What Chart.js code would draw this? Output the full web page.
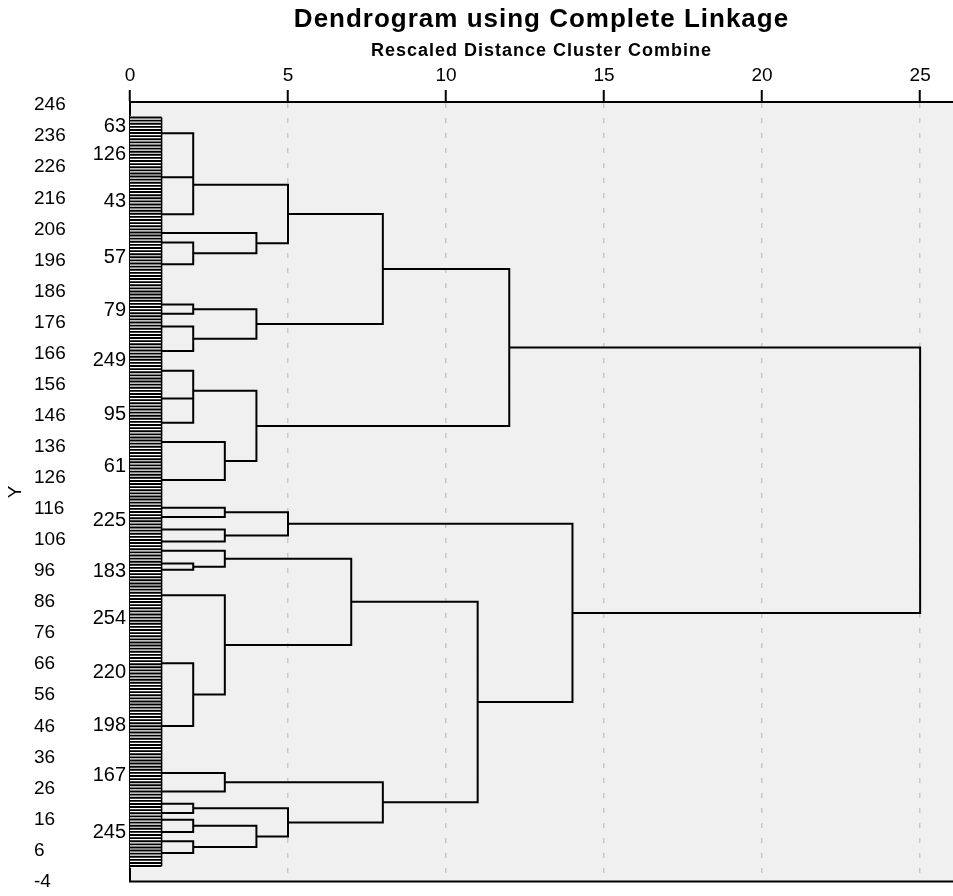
<!DOCTYPE html>
<html>
<head>
<meta charset="utf-8">
<script src="https://cdn.jsdelivr.net/npm/chart.js@4.4.1/dist/chart.umd.min.js"></script>
<style>
  html, body { margin: 0; padding: 0; background: #fff; }
</style>
</head>
<body>
<canvas id="dendro" width="953" height="896"></canvas>
<script>
// leaf count (cases), tick labels
var leafCount = 242;
var xTicks = [0, 5, 10, 15, 20, 25];
var yTicks = [246, 236, 226, 216, 206, 196, 186, 176, 166, 156, 146, 136, 126, 116, 106, 96, 86, 76, 66, 56, 46, 36, 26, 16, 6, -4];

// case labels shown next to the leaves and their leaf position
var leafLabels = ['63', '126', '43', '57', '79', '249', '95', '61', '225', '183', '254', '220', '198', '167', '245'];
var leafLabelPos = [239.6, 230.6, 215.5, 197.5, 180.4, 164.3, 147.0, 130.1, 112.9, 96.3, 81.1, 63.9, 46.8, 30.7, 12.5];

// clusters that leave the leaf band (joined at distance 1), by position
var groupPos = [236.9, 222.8, 210.9, 204.8, 201.8, 194.8, 181.8, 178.8, 174.7, 166.8,
                160.5, 151.5, 143.7, 137.5, 125.3, 116.4, 113.4, 109.4, 105.5, 102.5,
                98.4, 96.4, 88.2, 66.3, 46.1, 31.0, 25.0, 21.1, 18.1, 15.9, 12.0, 9.0, 5.2];

// merge table: child a, child b, rescaled distance
var mergeA = ['g0', 'm0', 'g4', 'g3', 'm1', 'g6', 'g8', 'm5', 'm4', 'g11', 'g10', 'g13', 'm10', 'm8', 'g15', 'g17',
              'm14', 'g20', 'g19', 'g23', 'g22', 'm18', 'g25', 'g27', 'g29', 'g31', 'm24', 'm23', 'm22', 'm21', 'm16', 'm13'];
var mergeB = ['g1', 'g2', 'g5', 'm2', 'm3', 'g7', 'g9', 'm6', 'm7', 'g12', 'm9', 'g14', 'm11', 'm12', 'g16', 'g18',
              'm15', 'g21', 'm17', 'g24', 'm19', 'm20', 'g26', 'g28', 'g30', 'g32', 'm25', 'm26', 'm27', 'm28', 'm29', 'm30'];
var mergeDist = [2, 2, 2, 4, 5, 2, 2, 4, 8, 2, 2, 3, 4, 12, 3, 3, 5, 2, 3, 2, 3, 7, 3, 2, 2, 2, 4, 5, 8, 11, 14, 25];

var FONT = '"Liberation Sans", Arial, sans-serif';
var gap = {x: null, y: null};

// node positions: a merged cluster sits midway between its two children
var nodePos = {}, nodeDist = {};
groupPos.forEach(function(v, i) { nodePos['g' + i] = v; nodeDist['g' + i] = 1; });
mergeA.forEach(function(a, k) {
    var b = mergeB[k];
    nodePos['m' + k] = (nodePos[a] + nodePos[b]) / 2;
    nodeDist['m' + k] = mergeDist[k];
});

var linkData = [];
mergeA.forEach(function(a, k) {
    var b = mergeB[k], d = mergeDist[k];
    linkData.push({x: nodeDist[a], y: nodePos[a]}, {x: d, y: nodePos[a]},
                  {x: d, y: nodePos[b]}, {x: nodeDist[b], y: nodePos[b]}, gap);
});

var leafData = [];
for (var i = 1; i <= leafCount; i++) {
    leafData.push({x: 0, y: i}, {x: 1, y: i}, gap);
}

var decor = {
    id: 'decor',
    beforeDraw: function(chart) {
        var a = chart.chartArea, ctx = chart.ctx;
        ctx.save();
        ctx.fillStyle = '#f0f0f0';
        ctx.fillRect(a.left, a.top, a.right - a.left, a.bottom - a.top);
        ctx.restore();
    },
    beforeDatasetsDraw: function(chart) {
        var x = chart.scales.x, y = chart.scales.y, ctx = chart.ctx;
        var x0 = x.getPixelForValue(0), x1 = x.getPixelForValue(1);
        var t = y.getPixelForValue(leafCount + 0.5), b = y.getPixelForValue(0.5);
        ctx.save();
        ctx.fillStyle = '#ffffff';
        ctx.fillRect(x0, t, x1 - x0, b - t);
        ctx.restore();
    },
    afterDraw: function(chart) {
        var a = chart.chartArea, ctx = chart.ctx;
        var x = chart.scales.x, y = chart.scales.y;
        var cx = (a.left + a.right) / 2;
        ctx.save();
        ctx.fillStyle = '#000';
        ctx.textAlign = 'center';
        ctx.textBaseline = 'alphabetic';
        ctx.letterSpacing = '1px';
        ctx.font = 'bold 26px ' + FONT;
        ctx.fillText('Dendrogram using Complete Linkage', cx, 27);
        ctx.font = 'bold 18px ' + FONT;
        ctx.fillText('Rescaled Distance Cluster Combine', cx, 56);
        ctx.letterSpacing = '0px';

        // leaf labels
        ctx.font = '20px ' + FONT;
        ctx.textAlign = 'right';
        var lx = x.getPixelForValue(0) - 4;
        leafLabels.forEach(function(lab, k) {
            ctx.fillText(lab, lx, y.getPixelForValue(leafLabelPos[k]) + 7.2);
        });

        // y title
        ctx.font = '19px ' + FONT;
        ctx.textAlign = 'center';
        ctx.textBaseline = 'middle';
        ctx.translate(16, 492);
        ctx.rotate(-Math.PI / 2);
        ctx.fillText('Y', 0, 0);
        ctx.restore();

        // bottom frame
        ctx.save();
        ctx.strokeStyle = '#000';
        ctx.lineWidth = 2;
        ctx.beginPath();
        ctx.moveTo(a.left - 1, a.bottom);
        ctx.lineTo(a.right, a.bottom);
        ctx.stroke();
        ctx.restore();
    }
};

var chart = new Chart(document.getElementById('dendro').getContext('2d'), {
    type: 'line',
    data: {
        datasets: [{
            label: 'leaves',
            data: leafData,
            borderColor: '#000',
            borderWidth: 1.9,
            pointRadius: 0,
            spanGaps: false
        }, {
            label: 'leaf edge',
            data: [{x: 1, y: 1}, {x: 1, y: leafCount}],
            borderColor: '#000',
            borderWidth: 1.5,
            pointRadius: 0
        }, {
            label: 'links',
            data: linkData,
            borderColor: '#000',
            borderWidth: 2,
            pointRadius: 0,
            spanGaps: false
        }]
    },
    options: {
        responsive: false,
        animation: false,
        layout: {
            padding: {top: 62, left: 34, right: 0, bottom: 13}
        },
        plugins: {
            legend: {display: false},
            tooltip: {enabled: false}
        },
        scales: {
            x: {
                type: 'linear',
                position: 'top',
                min: 0,
                max: 26.04,
                afterBuildTicks: function(scale) {
                    scale.ticks = xTicks.map(function(v) { return {value: v}; });
                },
                afterFit: function(scale) { scale.height = 40; },
                ticks: {
                    color: '#000',
                    font: {family: FONT, size: 19},
                    padding: 3,
                    maxRotation: 0
                },
                grid: {
                    color: function(ctx) { return ctx.tick && ctx.tick.value === 0 ? 'rgba(0,0,0,0)' : '#c8c8c8'; },
                    lineWidth: 1.5,
                    tickColor: '#000',
                    tickWidth: 2,
                    tickLength: 12
                },
                border: {display: true, color: '#000', width: 2, dash: [5, 10]}
            },
            y: {
                type: 'linear',
                min: -4,
                max: 247,
                afterBuildTicks: function(scale) {
                    scale.ticks = yTicks.map(function(v) { return {value: v}; });
                },
                afterFit: function(scale) { scale.width = 96; },
                ticks: {
                    color: '#000',
                    font: {family: FONT, size: 19},
                    crossAlign: 'far'
                },
                grid: {display: false},
                border: {display: true, color: '#000', width: 2}
            }
        }
    },
    plugins: [decor]
});
</script>
</body>
</html>
